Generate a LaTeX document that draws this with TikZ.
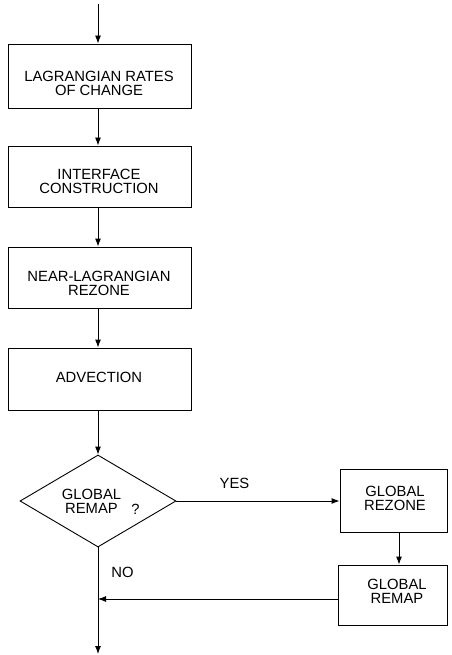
\documentclass[tikz,border=0pt]{standalone}
\usepackage{fontspec}
\setmainfont{Liberation Sans}
\usetikzlibrary{shapes.geometric,arrows.meta}
\begin{document}
\begin{tikzpicture}[x=1pt,y=-1pt,
  box/.style={draw, line width=0.9pt, rectangle, inner sep=0pt},
  txt/.style={align=center, inner sep=0pt, font=\fontsize{14.8}{13.8}\selectfont},
  arr/.style={-{Latex[length=8pt,width=6pt]}, line width=0.9pt},
  ln/.style={line width=0.9pt}]
\useasboundingbox (0,0) rectangle (451,655);
\coordinate (top) at (98,4);
\coordinate (bot) at (98,654);
\node[box, minimum width=183pt, minimum height=64pt] (b1) at (99.5,76) {};
\node[box, minimum width=183pt, minimum height=61pt] (b2) at (99.5,176.5) {};
\node[box, minimum width=183pt, minimum height=61pt] (b3) at (99.5,277.5) {};
\node[box, minimum width=183pt, minimum height=62pt] (b4) at (99.5,379) {};
\node[draw, line width=0.9pt, diamond, inner sep=0pt, minimum width=156pt, minimum height=92pt] (d) at (98,501) {};
\node[box, minimum width=107pt, minimum height=63pt] (b5) at (393.5,500.5) {};
\node[box, minimum width=109pt, minimum height=60pt] (b6) at (392.5,595) {};
\node[txt] (t1) at (99,83.5) {LAGRANGIAN RATES\\OF CHANGE};
\node[txt] (t2) at (99,181.5) {INTERFACE\\CONSTRUCTION};
\node[txt] (t3) at (99,283.5) {NEAR-LAGRANGIAN\\REZONE};
\node[txt] (t4) at (99,377.5) {ADVECTION};
\node[txt] (t5) at (91.5,501) {GLOBAL\\REMAP};
\node[txt] (q) at (135.5,509) {?};
\node[txt] (t6) at (395,498) {GLOBAL\\REZONE};
\node[txt] (t7) at (397,591.5) {GLOBAL\\REMAP};
\node[txt] (yes) at (234.5,483) {YES};
\node[txt] (no) at (122.5,572) {NO};
\coordinate (join) at (98,599);
\draw[arr] (top) -- (top |- b1.north);
\draw[arr] (b1.south -| top) -- (top |- b2.north);
\draw[arr] (b2.south -| top) -- (top |- b3.north);
\draw[arr] (b3.south -| top) -- (top |- b4.north);
\draw[arr] (b4.south -| top) -- (d.north);
\draw[arr] (d.east) -- (d.east -| b5.west);
\draw[arr] ([xshift=5.5pt]b5.south) -- ([xshift=5.5pt]b5.south |- b6.north);
\draw[arr] (b6.west |- join) -- (join);
\draw[arr] (d.south) -- (bot);
\end{tikzpicture}
\end{document}
